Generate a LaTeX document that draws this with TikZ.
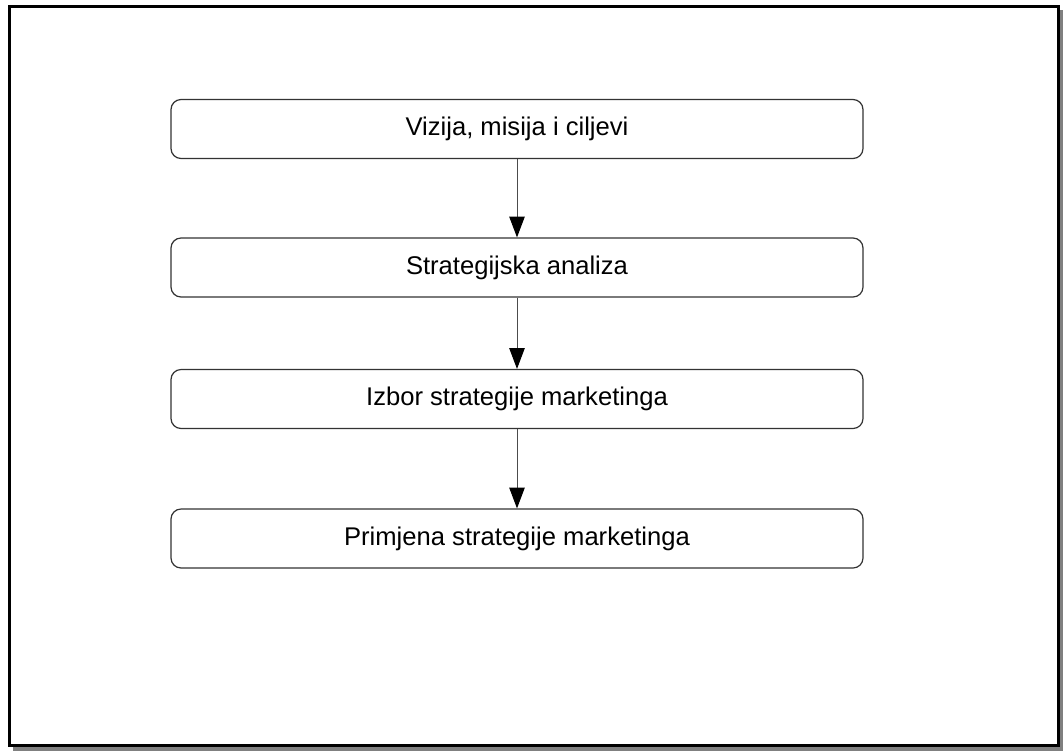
\documentclass[tikz,border=0pt]{standalone}
\usepackage{fontspec}
\setmainfont{Liberation Sans}
\usetikzlibrary{arrows.meta}
\begin{document}
\begin{tikzpicture}[x=0.75pt,y=-0.75pt,
  box/.style={draw=black!80, line width=0.9pt, rounded corners=7.5pt, fill=white,
    minimum width=519pt, minimum height=44.25pt, inner sep=0pt, font=\fontsize{19.2}{22}\selectfont},
  conn/.style={draw=black!70, line width=0.75pt, -{Triangle[width=11.5pt,length=15.5pt,color=black]}}]
\useasboundingbox (0,0) rectangle (1063,751);
% frame with shadow
\fill[black!50] (13,10) rectangle (1063,751);
\draw[line width=2.25pt, fill=white] (9.5,6.5) rectangle (1058,745.5);
% boxes
\node[box] (b1) at (517,129) {Vizija, misija i ciljevi};
\node[box] (b2) at (517,267.5) {Strategijska analiza};
\node[box] (b3) at (517,399) {Izbor strategije marketinga};
\node[box] (b4) at (517,538.5) {Primjena strategije marketinga};
% connectors
\draw[conn] (b1) -- (b2);
\draw[conn] (b2) -- (b3);
\draw[conn] (b3) -- (b4);
\end{tikzpicture}
\end{document}
